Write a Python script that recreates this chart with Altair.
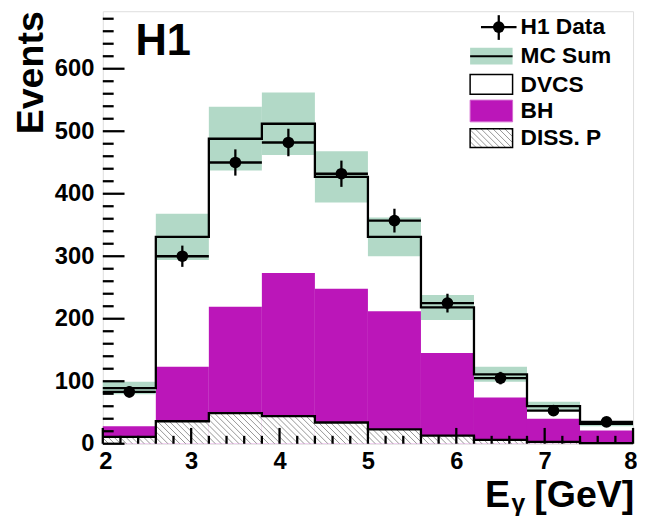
import altair as alt
import pandas as pd

# ---------------- data ----------------
bin_lo = [2.0, 2.6, 3.2, 3.8, 4.4, 5.0, 5.6, 6.2, 6.8, 7.4]
bin_hi = [2.6, 3.2, 3.8, 4.4, 5.0, 5.6, 6.2, 6.8, 7.4, 8.0]
h1_data = [83, 300, 450, 482, 432, 357, 225, 105, 53, 35]
h1_err = [9, 17, 21, 22, 21, 19, 15, 10, 7, 6]
diss_p = [11, 36, 49, 44, 34, 23, 13, 6, 3, 1]
bh = [17, 87, 170, 229, 214, 189, 132, 68, 37, 20]
dvcs = [61, 208, 269, 239, 179, 119, 73, 37, 20, 11]
mc_err = [10, 37, 51, 50, 41, 31, 20, 12, 7, 4]
y_major = [0, 100, 200, 300, 400, 500, 600]
y_minor = [v for v in range(0, 700, 20) if v % 100 != 0]
x_major = [2, 3, 4, 5, 6, 7, 8]
x_minor = [round(2 + 0.2 * i, 1) for i in range(1, 30) if i % 5 != 0]

# ---------------- layout ----------------
W, H = 537, 438
XMIN, XMAX, YMAX = 2.0, 8.0, 692.0
PX = W / (XMAX - XMIN)
PY = H / YMAX
FONT = "Liberation Sans"
MAGENTA = "#bb16b9"
GREEN = "#b2d9c7"

# stacked levels
diss_top = diss_p
bh_top = [d + b for d, b in zip(diss_p, bh)]
mc_top = [t + v for t, v in zip(bh_top, dvcs)]

bins = pd.DataFrame({
    "lo": bin_lo, "hi": bin_hi,
    "mid": [(a + b) / 2 for a, b in zip(bin_lo, bin_hi)],
    "diss": diss_top, "bh": bh_top, "mc": mc_top,
    "mc_lo": [m - e for m, e in zip(mc_top, mc_err)],
    "mc_hi": [m + e for m, e in zip(mc_top, mc_err)],
    "data": h1_data,
    "d_lo": [d - e for d, e in zip(h1_data, h1_err)],
    "d_hi": [d + e for d, e in zip(h1_data, h1_err)],
})

steps = pd.DataFrame({
    "x": bin_lo + [bin_hi[-1]],
    "mc": mc_top + [mc_top[-1]],
    "diss": diss_top + [diss_top[-1]],
})


def hatch(u0, u1, v0, v1, step=6.0):
    """diagonal hatch segments (pixel space, v measured upward)"""
    segs = []
    c = 0.0
    while c <= W + H + step:
        ua = max(u0, c - v1)
        ub = min(u1, c - v0)
        if ub > ua:
            segs.append((ua, c - ua, ub, c - ub))
        c += step
    return segs


hrows = []
for lo, hi, d in zip(bin_lo, bin_hi, diss_top):
    for ua, va, ub, vb in hatch((lo - XMIN) * PX, (hi - XMIN) * PX, 0, d * PY):
        hrows.append({"x": XMIN + ua / PX, "y": va / PY, "x2": XMIN + ub / PX, "y2": vb / PY})
# legend box hatch (box at plot px x 372-415, y 119-138)
for ua, va, ub, vb in hatch(372, 415, H - 138, H - 119, step=6.0):
    hrows.append({"x": XMIN + ua / PX, "y": va / PY, "x2": XMIN + ub / PX, "y2": vb / PY})
hatch_df = pd.DataFrame(hrows)

xscale = alt.Scale(domain=[XMIN, XMAX], nice=False, zero=False)
yscale = alt.Scale(domain=[0, YMAX], nice=False, zero=False)
xaxis = alt.Axis(values=x_major, format="d", labelFont=FONT, labelFontSize=24,
                 labelFontWeight="bold", labelColor="black", ticks=False, tickSize=0,
                 domain=False, grid=False, labelPadding=6, labelFlush=True,
                 labelFlushOffset=4)
yaxis = alt.Axis(values=y_major, format="d", labelFont=FONT, labelFontSize=24,
                 labelFontWeight="bold", labelColor="black", ticks=False, tickSize=0,
                 domain=False, grid=False, labelPadding=9, labelFlush=False)


def X(f):
    return alt.X(f"{f}:Q", scale=xscale, axis=xaxis, title=None)


def Y(f):
    return alt.Y(f"{f}:Q", scale=yscale, axis=yaxis, title=None)


def X2(f):
    return alt.X2(f"{f}:Q")


def Y2(f):
    return alt.Y2(f"{f}:Q")


base = alt.Chart(bins)

bh_rect = base.mark_rect(color=MAGENTA).encode(x=X("lo"), x2=X2("hi"), y=Y("zero"), y2=Y2("bh")).transform_calculate(zero="0")
diss_rect = base.mark_rect(color="white").encode(x=X("lo"), x2=X2("hi"), y=Y("zero"), y2=Y2("diss")).transform_calculate(zero="0")
hatch_lines = alt.Chart(hatch_df).mark_rule(color="#7a7a7a", strokeWidth=0.8).encode(
    x=X("x"), y=Y("y"), x2=X2("x2"), y2=Y2("y2"))
diss_line = alt.Chart(steps).mark_line(interpolate="step-after", color="black", strokeWidth=2.3).encode(
    x=X("x"), y=Y("diss"))
band = base.mark_rect(color=GREEN).encode(x=X("lo"), x2=X2("hi"), y=Y("mc_lo"), y2=Y2("mc_hi"))
mc_line = alt.Chart(steps).mark_line(interpolate="step-after", color="black", strokeWidth=2.3).encode(
    x=X("x"), y=Y("mc"))
d_h = base.mark_rule(color="black", strokeWidth=2.3).encode(x=X("lo"), x2=X2("hi"), y=Y("data"))
d_v = base.mark_rule(color="black", strokeWidth=2.3).encode(x=X("mid"), y=Y("d_lo"), y2=Y2("d_hi"))
d_pt = base.mark_circle(color="black", opacity=1, size=140).encode(x=X("mid"), y=Y("data"))

# ticks (drawn inside the frame, ROOT style)
ymaj = alt.Chart(pd.DataFrame({"v": y_major})).mark_rule(color="black", strokeWidth=2.3).encode(
    y=Y("v"), x=alt.value(0), x2=alt.value(22))
ymin = alt.Chart(pd.DataFrame({"v": y_minor})).mark_rule(color="black", strokeWidth=2.3).encode(
    y=Y("v"), x=alt.value(0), x2=alt.value(11))
xmaj = alt.Chart(pd.DataFrame({"v": x_major})).mark_rule(color="black", strokeWidth=2.3).encode(
    x=X("v"), y=alt.value(H), y2=alt.value(H - 16))
xmin = alt.Chart(pd.DataFrame({"v": x_minor})).mark_rule(color="black", strokeWidth=2.3).encode(
    x=X("v"), y=alt.value(H), y2=alt.value(H - 8))

one = pd.DataFrame({"a": [0]})


def txt(s, x, y, size, align="left", baseline="alphabetic", angle=0, font=FONT):
    kw = dict(text=s, align=align, baseline=baseline, font=font, fontSize=size,
              fontWeight="bold", color="black")
    if angle:
        kw["angle"] = angle
    return alt.Chart(one).mark_text(**kw).encode(x=alt.value(x), y=alt.value(y))


def box(x1, x2, y1, y2, fill, stroke=None, sw=1.5):
    kw = dict(fill=fill)
    if stroke:
        kw.update(stroke=stroke, strokeWidth=sw)
    return alt.Chart(one).mark_rect(**kw).encode(
        x=alt.value(x1), x2=alt.value(x2), y=alt.value(y1), y2=alt.value(y2))


def rule(x1, x2, y1, y2, sw=2.3):
    return alt.Chart(one).mark_rule(color="black", strokeWidth=sw).encode(
        x=alt.value(x1), x2=alt.value(x2), y=alt.value(y1), y2=alt.value(y2))


legend_layers = [
    rule(383, 419, 16, 16), rule(401, 401, 4, 29),
    alt.Chart(one).mark_circle(color="black", opacity=1, size=140).encode(x=alt.value(401), y=alt.value(16)),
    box(372, 415, 37, 54, GREEN), rule(372, 415, 45.5, 45.5, sw=2),
    box(372, 415, 64, 84, "white", "black"),
    box(372, 415, 90, 112, MAGENTA, "#d36ad0", 1),
    box(372, 415, 119, 138, "transparent", "black"),
    txt("H1 Data", 423, 23.5, 23), txt("MC Sum", 423, 52.5, 23), txt("DVCS", 423, 81.5, 23),
    txt("BH", 423, 108.5, 23), txt("DISS. P", 423, 135.5, 23),
]

texts = [
    txt("H1", 33, 44, 44),
    txt("Events", -61, 0, 38, align="right", angle=270),
    txt("E", 387, 502, 38),
    txt("γ", 414, 506, 25),
    txt("[GeV]", 437, 502, 38),
]

chart = alt.layer(
    bh_rect, diss_rect, hatch_lines, diss_line, band, mc_line,
    d_h, d_v, d_pt, ymaj, ymin, xmaj, xmin, *legend_layers, *texts
).properties(
    width=W, height=H,
    autosize=alt.AutoSizeParams(type="none"),
    padding={"left": 96, "top": 0, "right": 4, "bottom": 78},
).configure_view(stroke="black", strokeWidth=2.3).configure(background="white")

chart.save("out.html", embed_options={"renderer": "svg", "actions": False})
